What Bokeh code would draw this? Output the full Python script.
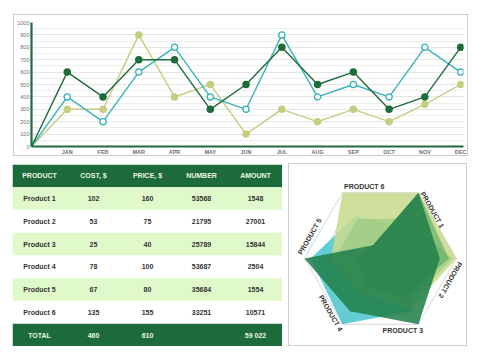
import math
from bokeh.plotting import figure
from bokeh.layouts import column, row
from bokeh.models import Range1d, SingleIntervalTicker, FixedTicker
from bokeh.core.properties import value
from bokeh.embed import file_html
from bokeh.resources import INLINE

# ---------------- data ----------------
months = ["JAN", "FEB", "MAR", "APR", "MAY", "JUN", "JUL", "AUG", "SEP", "OCT", "NOV", "DEC"]
series_dark = [600, 400, 700, 700, 300, 500, 800, 500, 600, 300, 400, 800]
series_teal = [400, 200, 600, 800, 400, 300, 900, 400, 500, 400, 800, 600]
series_olive = [300, 300, 900, 400, 500, 100, 300, 200, 300, 200, 340, 500]

table_header = ["PRODUCT", "COST, $", "PRICE, $", "NUMBER", "AMOUNT"]
products = ["Product 1", "Product 2", "Product 3", "Product 4", "Product 5", "Product 6"]
cost = [102, 53, 25, 78, 67, 135]
price = [160, 75, 40, 100, 80, 155]
number = [53568, 21795, 25789, 53687, 35684, 33251]
amount = [1548, 27001, 15844, 2504, 1554, 10571]
table_total = ["TOTAL", "460", "610", "", "59 022"]

radar_labels = ["PRODUCT 1", "PRODUCT 2", "PRODUCT 3", "PRODUCT 4", "PRODUCT 5", "PRODUCT 6"]
# values on the six spokes (top-right, right, bottom-right, bottom-left, left, top-left)
radar_teal = [0.5, 0.5, 0.8, 1.0, 0.92, 0.65]
radar_olive = [1.0, 1.0, 0.78, 0.5, 0.65, 1.0]
radar_light = [0.6, 0.95, 0.7, 0.5, 0.6, 0.6]
radar_mid = [1.0, 0.9, 0.6, 0.4, 0.3, 0.2]
radar_dark = [1.0, 0.78, 1.0, 0.8, 1.0, 0.2]

DARK = "#1e6b3b"
TEAL = "#3ab3b5"
OLIVE = "#c6cc80"
FONT = value("Liberation Sans")

# ---------------- line chart ----------------
p1 = figure(width=455, height=142, x_range=Range1d(0, 12.08), y_range=Range1d(0, 1000),
            output_backend="svg", toolbar_location=None,
            min_border_left=16, min_border_right=6, min_border_top=7, min_border_bottom=9,
            margin=(14, 0, 0, 13), styles={"border": "1px solid #c8d0cf"})
p1.outline_line_color = None
p1.background_fill_color = "white"
p1.xgrid.grid_line_color = None
p1.ygrid.grid_line_color = "#e4e6e4"
p1.ygrid.minor_grid_line_color = "#eceeec"

p1.xaxis.ticker = FixedTicker(ticks=list(range(1, 13)))
p1.xaxis.major_label_overrides = {i + 1: m for i, m in enumerate(months)}
p1.yaxis.ticker = SingleIntervalTicker(interval=100, num_minor_ticks=2)
for ax in (p1.xaxis[0], p1.yaxis[0]):
    ax.axis_line_color = DARK
    ax.axis_line_width = 2.2
    ax.major_tick_line_color = None
    ax.minor_tick_line_color = None
    ax.major_tick_out = 0
    ax.major_tick_in = 0
    ax.minor_tick_out = 0
    ax.minor_tick_in = 0
    ax.major_label_text_font = "Liberation Sans"
    ax.major_label_text_font_size = "5.5px"
    ax.major_label_text_color = "#6f6f6f"
    ax.major_label_standoff = 2
p1.xaxis.major_label_text_font_style = "bold"

xs = [0] + list(range(1, 13))
for ser, col, hollow in ((series_olive, OLIVE, False), (series_teal, TEAL, True), (series_dark, DARK, False)):
    p1.line(xs, [0] + ser, line_color=col, line_width=1.4)
    p1.scatter(list(range(1, 13)), ser, size=6.2, line_color=col, line_width=1.3,
               fill_color="white" if hollow else col)

# ---------------- table ----------------
n_rows = 2 + len(products)
p2 = figure(width=270, height=182, x_range=Range1d(0, 5), y_range=Range1d(n_rows, 0),
            x_axis_type=None, y_axis_type=None, output_backend="svg", toolbar_location=None,
            min_border=0, margin=(8, 0, 0, 12))
p2.outline_line_color = None
p2.grid.grid_line_color = None

row_fill = []
for i in range(n_rows):
    if i == 0 or i == n_rows - 1:
        row_fill.append("#1d6b3c")
    elif i % 2 == 1:
        row_fill.append("#e0f9cb")
    else:
        row_fill.append("#ffffff")
p2.quad(left=[0] * n_rows, right=[5] * n_rows, top=list(range(n_rows)),
        bottom=[i + 1 for i in range(n_rows)], fill_color=row_fill, line_color=None)

cells = [table_header]
for i in range(len(products)):
    cells.append([products[i], str(cost[i]), str(price[i]), str(number[i]), str(amount[i])])
cells.append(table_total)

tx, ty, tt, tc = [], [], [], []
for r, cells_row in enumerate(cells):
    for c, t in enumerate(cells_row):
        tx.append(c + 0.5)
        ty.append(r + 0.5)
        tt.append(t)
        tc.append("#e9f6e4" if (r == 0 or r == n_rows - 1) else "#333333")
p2.text(x=tx, y=ty, text=tt, text_color=tc, text_align="center", text_baseline="middle",
        text_font=FONT, text_font_style="bold", text_font_size="7px")

# ---------------- radar ----------------
p3 = figure(width=179, height=183, x_range=Range1d(-1.197, 1.158), y_range=Range1d(-1.171, 1.237),
            x_axis_type=None, y_axis_type=None, output_backend="svg", toolbar_location=None,
            min_border=0, margin=(7, 0, 0, 6), styles={"border": "1px solid #c8d0cf"})
p3.outline_line_color = None
p3.grid.grid_line_color = None

angles = [math.radians(a) for a in (60, 0, -60, -120, 180, 120)]
vx = [math.cos(a) for a in angles]
vy = [math.sin(a) for a in angles]

for r in (0.2, 0.4, 0.6, 0.8, 1.0):
    p3.line([r * x for x in vx + vx[:1]], [r * y for y in vy + vy[:1]],
            line_color="#c9cece", line_width=0.8)
p3.segment(x0=[0] * 6, y0=[0] * 6, x1=vx, y1=vy, line_color="#c9cece", line_width=0.8)

for vals, col, alpha in ((radar_teal, "#3cc0c8", 0.8), (radar_olive, "#c8db8f", 0.88),
                         (radar_light, "#8cc577", 0.5), (radar_mid, "#4aa35c", 0.55),
                         (radar_dark, "#22804a", 0.87)):
    p3.patch([v * x for v, x in zip(vals, vx)], [v * y for v, y in zip(vals, vy)],
             fill_color=col, fill_alpha=alpha, line_color=None)

flip = [False, False, True, True, False, False]
offset = [0.045, 0.07, 0.075, 0.06, 0.085, 0.08]
for k, lab in enumerate(radar_labels):
    k2 = (k + 1) % 6
    dx, dy = vx[k2] - vx[k], vy[k2] - vy[k]
    ln = math.hypot(dx, dy)
    dx, dy = dx / ln, dy / ln
    nx, ny = -dy, dx
    if flip[k]:
        ang = math.atan2(-dy, -dx)
        px = vx[k] + offset[k] * nx - 0.06 * dx
        py = vy[k] + offset[k] * ny - 0.06 * dy
        align = "right"
    else:
        ang = math.atan2(dy, dx)
        px = vx[k] + offset[k] * nx + 0.02 * dx
        py = vy[k] + offset[k] * ny + 0.02 * dy
        align = "left"
    p3.text(x=[px], y=[py], text=[lab], angle=ang, text_align=align, text_baseline="middle",
            text_font=FONT, text_font_style="bold", text_font_size="7px", text_color="#333333")

layout = column(p1, row(p2, p3))
open("out.html", "w").write(file_html(layout, INLINE))
